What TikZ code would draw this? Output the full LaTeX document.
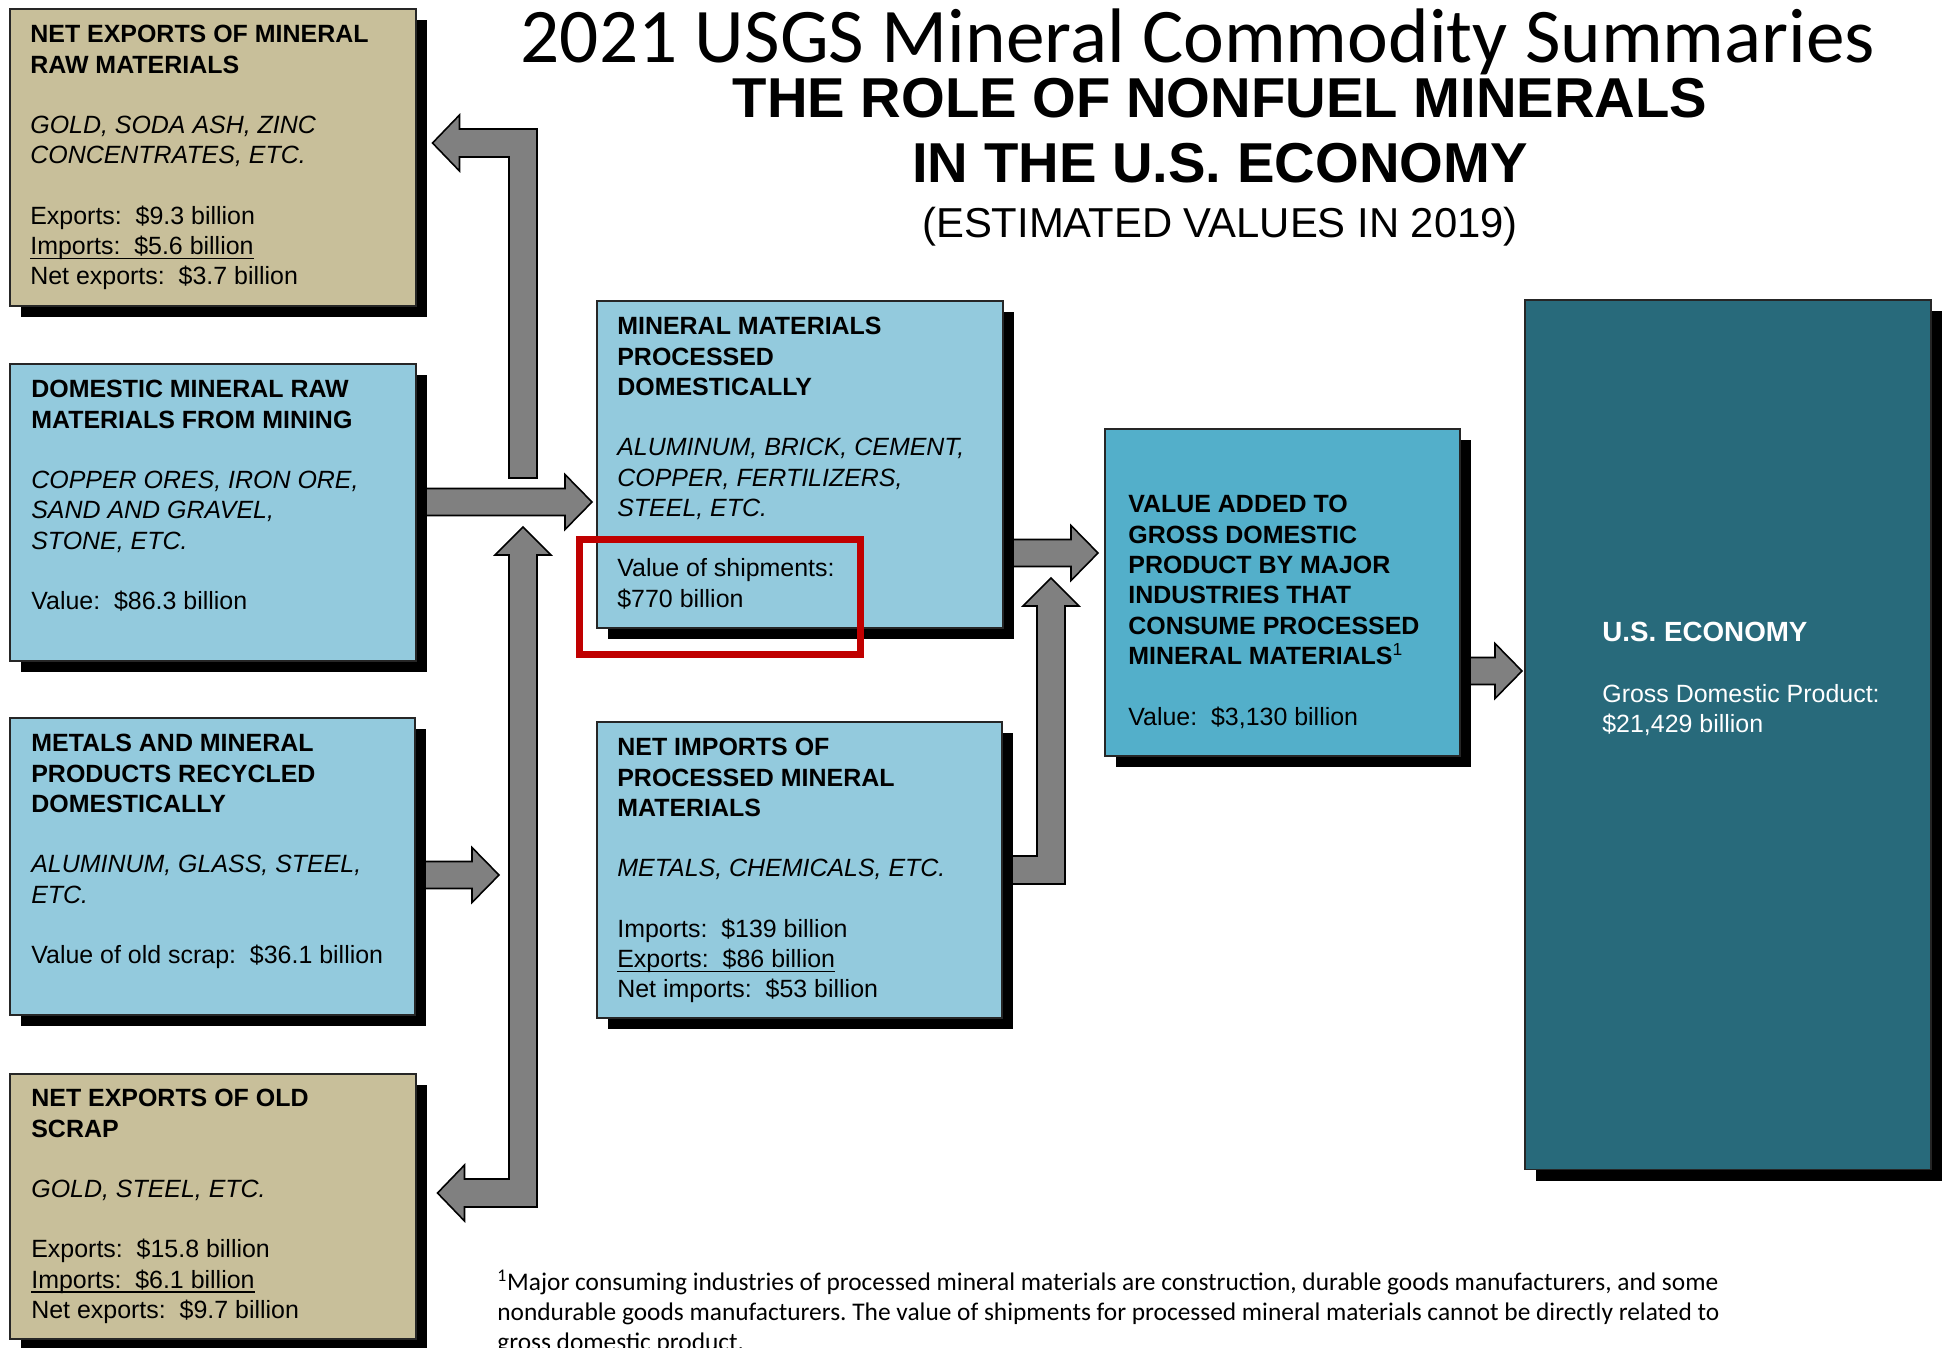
\documentclass[tikz,border=0pt]{standalone}
\usepackage{fontspec}
\setmainfont{Liberation Sans}
\newfontfamily\slidefont{Carlito}
\usepackage{xcolor}
\definecolor{mineralblue}{RGB}{147,202,221}
\definecolor{khaki}{RGB}{200,191,154}
\definecolor{gdpblue}{RGB}{83,175,202}
\definecolor{econteal}{RGB}{40,106,123}
\definecolor{arrowgray}{RGB}{128,128,128}
\definecolor{redline}{RGB}{192,0,0}
\usetikzlibrary{calc,positioning,shadows,backgrounds}
\tikzset{
  box/.style={rectangle, draw=black!85, line width=0.9pt, anchor=north west, inner sep=0pt,
    drop shadow={shadow xshift=0.22cm, shadow yshift=-0.22cm, fill=black, opacity=1}},
  bluebox/.style={box, fill=mineralblue},
  tanbox/.style={box, fill=khaki},
  gdpbox/.style={box, fill=gdpblue},
  econbox/.style={box, fill=econteal},
  boxtext/.style={anchor=north west, inner sep=0pt, align=left, font=\fontsize{14.2}{17.3}\selectfont},
  slidetitle/.style={anchor=base, inner sep=0pt, font=\slidefont\fontsize{44}{50}\selectfont},
  headline/.style={anchor=base, inner sep=0pt, font=\bfseries\fontsize{32}{38}\selectfont},
  subline/.style={anchor=base, inner sep=0pt, font=\fontsize{23.8}{28}\selectfont},
  footnote/.style={anchor=north west, inner sep=0pt, align=left, font=\slidefont\fontsize{14.45}{17}\selectfont},
  blockarrow/.style={fill=arrowgray, draw=black, line width=0.9pt},
  shiphighlight/.style={rectangle, draw=redline, line width=0.14cm, inner sep=0pt},
}
% straight block arrow to the right: #1 shaft start, #2 tip
\newcommand{\rarrow}[2]{%
  \draw[blockarrow] ($(#1)+(0,-13.5)$) -- ($(#2)+(-27,-13.5)$) -- ($(#2)+(-27,-27.5)$) -- (#2)
    -- ($(#2)+(-27,27.5)$) -- ($(#2)+(-27,13.5)$) -- ($(#1)+(0,13.5)$) -- cycle;}
\newcommand{\uln}[1]{\setbox0=\hbox{#1}\rlap{\rule[-2.6pt]{\wd0}{0.8pt}}\box0}
\frenchspacing

\begin{document}
\begin{tikzpicture}[x=0.02cm, y=-0.02cm]
\useasboundingbox (0,0) rectangle (1944,1347);
\clip (0,0) rectangle (1944,1347);

% headings
\node[slidetitle] (slide) at (1198,62) {2021 USGS Mineral Commodity Summaries};
\node[headline] (head1) at (1220,117) {THE ROLE OF NONFUEL MINERALS};
\node[headline] (head2) at (1220,182) {IN THE U.S. ECONOMY};
\node[subline] (head3) at (1220,237) {(ESTIMATED VALUES IN 2019)};

% boxes
\node[tanbox, minimum width=8.12cm, minimum height=5.94cm] (rawexp) at (9,8) {};
\node[bluebox, minimum width=8.12cm, minimum height=5.94cm] (mining) at (9,363) {};
\node[bluebox, minimum width=8.10cm, minimum height=5.94cm] (recycled) at (9,717) {};
\node[tanbox, minimum width=8.12cm, minimum height=5.30cm] (scrapexp) at (9,1073) {};
\node[bluebox, minimum width=8.12cm, minimum height=6.54cm] (procd) at (596,300) {};
\node[bluebox, minimum width=8.10cm, minimum height=5.92cm] (netimp) at (596,721) {};
\node[gdpbox, minimum width=7.10cm, minimum height=6.54cm] (valadd) at (1104,428) {};
\node[econbox, minimum width=8.12cm, minimum height=17.40cm] (economy) at (1524,299) {};

% box texts
\node[boxtext] (rawexp-txt) at ($(rawexp.north west)+(21,17)$) {%
  \textbf{NET EXPORTS OF MINERAL}\\ \textbf{RAW MATERIALS}\\[17pt]
  \textit{GOLD, SODA ASH, ZINC}\\ \textit{CONCENTRATES, ETC.}\\[17pt]
  Exports:~ \$9.3 billion\\ \uln{Imports:~ \$5.6 billion}\\ Net exports:~ \$3.7 billion};
\node[boxtext] (mining-txt) at ($(mining.north west)+(22,17)$) {%
  \textbf{DOMESTIC MINERAL RAW}\\ \textbf{MATERIALS FROM MINING}\\[17pt]
  \textit{COPPER ORES, IRON ORE,}\\ \textit{SAND AND GRAVEL,}\\ \textit{STONE, ETC.}\\[17pt]
  Value:~ \$86.3 billion};
\node[boxtext] (recycled-txt) at ($(recycled.north west)+(22,17)$) {%
  \textbf{METALS AND MINERAL}\\ \textbf{PRODUCTS RECYCLED}\\ \textbf{DOMESTICALLY}\\[17pt]
  \textit{ALUMINUM, GLASS, STEEL,}\\ \textit{ETC.}\\[17pt]
  Value of old scrap:~ \$36.1 billion};
\node[boxtext] (scrapexp-txt) at ($(scrapexp.north west)+(22,16)$) {%
  \textbf{NET EXPORTS OF OLD}\\ \textbf{SCRAP}\\[17pt]
  \textit{GOLD, STEEL, ETC.}\\[17pt]
  Exports:~ \$15.8 billion\\ \uln{Imports:~ \$6.1 billion}\\ Net exports:~ \$9.7 billion};
\node[boxtext] (procd-txt) at ($(procd.north west)+(21,17)$) {%
  \textbf{MINERAL MATERIALS}\\ \textbf{PROCESSED}\\ \textbf{DOMESTICALLY}\\[17pt]
  \textit{ALUMINUM, BRICK, CEMENT,}\\ \textit{COPPER, FERTILIZERS,}\\ \textit{STEEL, ETC.}\\[17pt]
  Value of shipments:\\ \$770 billion};
\node[boxtext] (netimp-txt) at ($(netimp.north west)+(21,17)$) {%
  \textbf{NET IMPORTS OF}\\ \textbf{PROCESSED MINERAL}\\ \textbf{MATERIALS}\\[17pt]
  \textit{METALS, CHEMICALS, ETC.}\\[17pt]
  Imports:~ \$139 billion\\ \uln{Exports:~ \$86 billion}\\ Net imports:~ \$53 billion};
\node[boxtext] (valadd-txt) at ($(valadd.north west)+(24,67)$) {%
  \textbf{VALUE ADDED TO}\\ \textbf{GROSS DOMESTIC}\\ \textbf{PRODUCT BY MAJOR}\\
  \textbf{INDUSTRIES THAT}\\ \textbf{CONSUME PROCESSED}\\ \textbf{MINERAL MATERIALS\textsuperscript{\mdseries 1}}\\[17pt]
  Value:~ \$3,130 billion};
\node[boxtext, text=white] (economy-txt) at ($(economy.north west)+(78,323)$) {%
  {\fontsize{15.8}{17}\selectfont\textbf{U.S. ECONOMY}}\\[17pt]
  Gross Domestic Product:\\ \$21,429 billion};

% arrows
\coordinate (mining-out) at (mining.east |- 0,502);
\coordinate (procd-in) at ($(procd.west |- 0,502)+(-4,0)$);
\coordinate (up-foot) at (523,478);
\coordinate (rawexp-in) at ($(rawexp.east |- 0,143)+(16,0)$);
\coordinate (up-bend) at (up-foot |- rawexp-in);
\coordinate (scrap-top) at (523,527);
\coordinate (scrapexp-in) at ($(scrapexp.east |- 0,1193)+(21,0)$);
\coordinate (scrap-bend) at (scrap-top |- scrapexp-in);
\coordinate (recycled-out) at (recycled.east |- 0,875);
\coordinate (scrap-in) at ($(scrap-top |- recycled-out)+(-24,0)$);
\coordinate (procd-out) at (procd.east |- 0,553);
\coordinate (valadd-in) at ($(valadd.west |- 0,553)+(-6,0)$);
\coordinate (netimp-out) at (netimp.east |- 0,870);
\coordinate (valadd-feed) at (1051,578);
\coordinate (netimp-bend) at (valadd-feed |- netimp-out);
\coordinate (valadd-out) at (valadd.east |- 0,671);
\coordinate (economy-in) at ($(economy.west |- 0,671)+(-2,0)$);

\begin{scope}[on background layer]
  \rarrow{mining-out}{procd-in}
  \rarrow{recycled-out}{scrap-in}
  \rarrow{procd-out}{valadd-in}
  \rarrow{valadd-out}{economy-in}
  \draw[blockarrow] ($(up-foot)+(-14,0)$) -- ($(up-bend)+(-14,14)$) -- ($(rawexp-in)+(27,14)$)
    -- ($(rawexp-in)+(27,28)$) -- (rawexp-in) -- ($(rawexp-in)+(27,-28)$) -- ($(rawexp-in)+(27,-14)$)
    -- ($(up-bend)+(14,-14)$) -- ($(up-foot)+(14,0)$) -- cycle;
  \draw[blockarrow] (scrap-top) -- ($(scrap-top)+(28,28)$) -- ($(scrap-top)+(14,28)$)
    -- ($(scrap-bend)+(14,14)$) -- ($(scrapexp-in)+(27,14)$) -- ($(scrapexp-in)+(27,28)$)
    -- (scrapexp-in) -- ($(scrapexp-in)+(27,-28)$) -- ($(scrapexp-in)+(27,-14)$)
    -- ($(scrap-bend)+(-14,-14)$) -- ($(scrap-top)+(-14,28)$) -- ($(scrap-top)+(-28,28)$) -- cycle;
  \draw[blockarrow] ($(netimp-out)+(0,-14)$) -- ($(netimp-bend)+(-14,-14)$) -- ($(valadd-feed)+(-14,28)$)
    -- ($(valadd-feed)+(-28,28)$) -- (valadd-feed) -- ($(valadd-feed)+(28,28)$) -- ($(valadd-feed)+(14,28)$)
    -- ($(netimp-bend)+(14,14)$) -- ($(netimp-out)+(0,14)$) -- cycle;
\end{scope}

% highlight
\node[shiphighlight, minimum width=5.64cm, minimum height=2.30cm] (shipval) at (720,596.5) {};

% footnote
\node[footnote] (note) at (497,1270) {%
  \textsuperscript{1}Major consuming industries of processed mineral materials are construction, durable goods manufacturers, and some\\
  nondurable goods manufacturers. The value of shipments for processed mineral materials cannot be directly related to\\
  gross domestic product.};
\end{tikzpicture}
\end{document}
